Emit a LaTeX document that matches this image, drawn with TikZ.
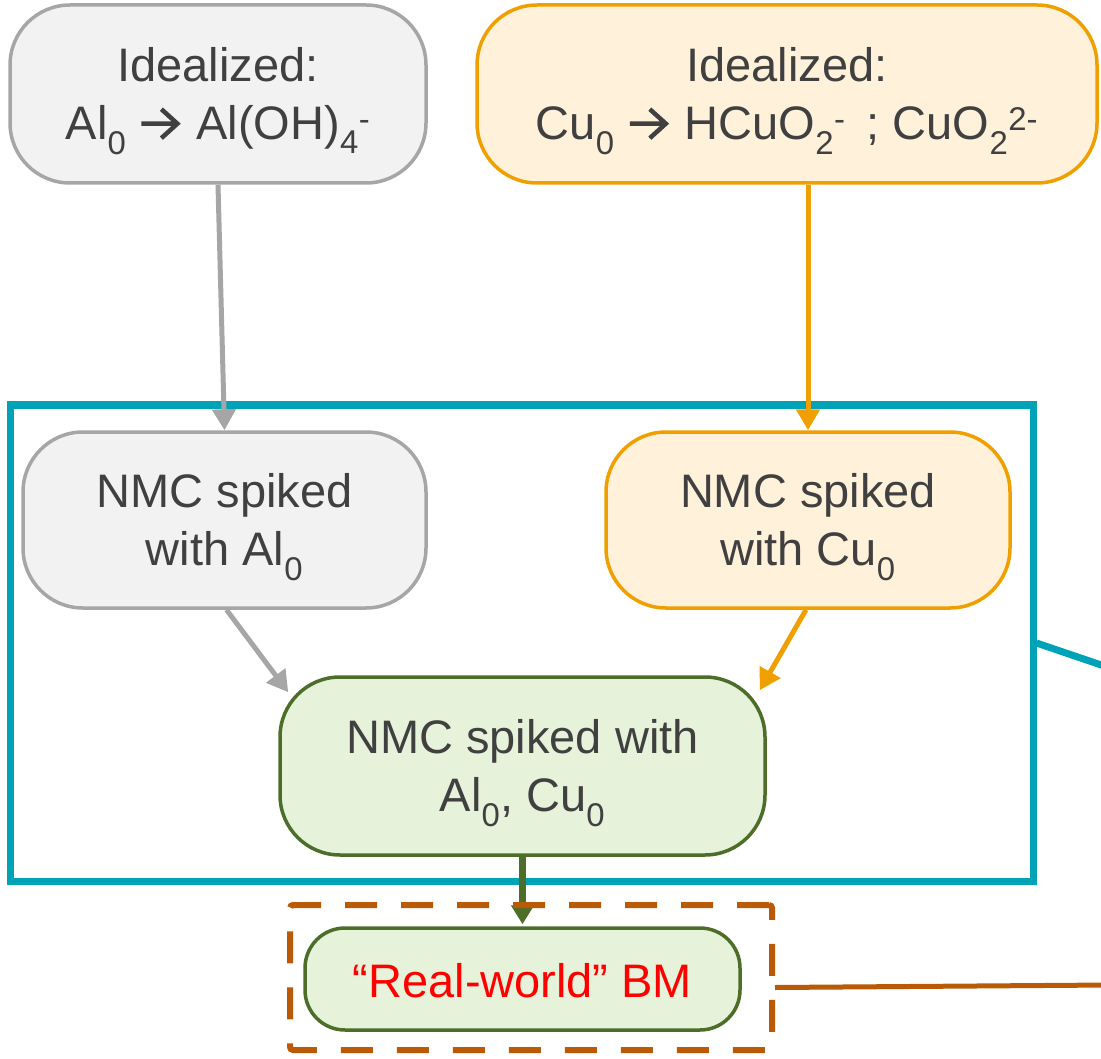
\documentclass[tikz,border=0pt]{standalone}
\usepackage{fontspec}
\setmainfont{Liberation Sans}
\usetikzlibrary{arrows.meta,calc}

\definecolor{txtgray}{HTML}{404040}
\definecolor{algray}{HTML}{A6A6A6}
\definecolor{alfill}{HTML}{F2F2F2}
\definecolor{cuorange}{HTML}{EFA000}
\definecolor{cufill}{HTML}{FFF1DA}
\definecolor{mixgreen}{HTML}{4C6E28}
\definecolor{mixfill}{HTML}{E6F2DA}
\definecolor{frameteal}{HTML}{00A2B8}
\definecolor{bmbrown}{HTML}{BA5A06}

% heavy reaction arrow used inside the equations
\newcommand\reactarrow{{\begin{pgfpicture}
  \pgfpathrectangle{\pgfpointorigin}{\pgfpoint{44pt}{32pt}}
  \pgfusepath{use as bounding box}
  \pgfsetlinewidth{4.5pt}\pgfsetmiterjoin
  \pgfsetstrokecolor{txtgray}
  \pgfpathmoveto{\pgfpoint{2pt}{16pt}}\pgfpathlineto{\pgfpoint{38pt}{16pt}}
  \pgfpathmoveto{\pgfpoint{22pt}{1.5pt}}\pgfpathlineto{\pgfpoint{38pt}{16pt}}
  \pgfpathlineto{\pgfpoint{22pt}{30.5pt}}
  \pgfusepath{stroke}
\end{pgfpicture}}}

\tikzset{
  stagebox/.style={rectangle, rounded corners=60pt, line width=3.5pt, inner sep=0pt},
  stagetext/.style={align=center, text=txtgray, inner sep=0pt,
    font=\fontsize{47}{58}\selectfont},
  albox/.style={stagebox, draw=algray, fill=alfill},
  cubox/.style={stagebox, draw=cuorange, fill=cufill},
  mixbox/.style={stagebox, draw=mixgreen, fill=mixfill},
  tip/.style={-{Triangle[length=21pt,width=23pt]}},
  alarrow/.style={tip, draw=algray, fill=algray, line width=5pt},
  cuarrow/.style={tip, draw=cuorange, fill=cuorange, line width=5pt},
  mixarrow/.style={-{Triangle[length=19pt,width=22pt]}, draw=mixgreen, fill=mixgreen, line width=6.5pt},
}

\begin{document}
\begin{tikzpicture}[x=1pt,y=-1pt]
\useasboundingbox (0,0) rectangle (1101,1059);

% test-set frame
\node[draw=frameteal, line width=7pt, minimum width=1023pt, minimum height=476pt,
  inner sep=0pt] (frame) at (521.5,643) {};

% idealized dissolution cases
\node[albox, minimum width=416pt, minimum height=178pt] (idealAl) at (218,94) {};
\node[stagetext] (idealAlText) at ([yshift=-7pt]idealAl.center)
  {Idealized:\\Al\textsubscript{0} \reactarrow{} Al(OH)\textsubscript{4}\textsuperscript{-}};
\node[cubox, minimum width=620pt, minimum height=178pt] (idealCu) at (787,94) {};
\node[stagetext] (idealCuText) at ([yshift=-7pt]idealCu.center)
  {Idealized:\\Cu\textsubscript{0} \reactarrow{} HCuO\textsubscript{2}\textsuperscript{-}\hspace{0.45em}; CuO\textsubscript{2}\textsuperscript{2-}};

% spiked NMC samples
\node[albox, minimum width=403pt, minimum height=176pt] (spikeAl) at (224.5,520) {};
\node[stagetext] (spikeAlText) at ([yshift=-7pt]spikeAl.center)
  {NMC spiked\\with Al\textsubscript{0}};
\node[cubox, minimum width=404pt, minimum height=176pt] (spikeCu) at (808,520) {};
\node[stagetext] (spikeCuText) at ([yshift=-7pt]spikeCu.center)
  {NMC spiked\\with Cu\textsubscript{0}};
\node[mixbox, minimum width=485pt, minimum height=178pt] (spikeMix) at (522.5,766) {};
\node[stagetext] (spikeMixText) at ([yshift=-7pt]spikeMix.center)
  {NMC spiked with\\Al\textsubscript{0}, Cu\textsubscript{0}};

% real-world black mass
\node[mixbox, rounded corners=40pt, minimum width=435pt, minimum height=102pt] (realBM) at (522.5,979) {};
\node[stagetext, text=red] (realBMText) at ([yshift=-2pt]realBM.center) {“Real-world” BM};

% connectors
\draw[alarrow] (idealAl.south) -- (spikeAl.north);
\draw[cuarrow] ([xshift=21pt]idealCu.south) -- (spikeCu.north);
\draw[alarrow] ([xshift=2pt]spikeAl.south) -- ($(spikeMix.north west)+(10,17)$);
\draw[cuarrow] ([xshift=-2pt]spikeCu.south) -- ($(spikeMix.north east)+(-7,15)$);
\draw[mixarrow] (spikeMix.south) -- ([yshift=2pt]realBM.north);

% dashed enclosure, drawn over the incoming arrow
\node[draw=bmbrown, line width=6pt, dash pattern=on 32pt off 24pt,
  rounded corners=3pt, minimum width=482pt, minimum height=145pt, inner sep=0pt]
  (bmframe) at (531,977.5) {};

% leads running off to the right
\coordinate (tealEnd) at (1110,668);
\coordinate (brownEnd) at (1110,985);
\draw[frameteal, line width=7pt] (frame.east) -- (tealEnd);
\draw[bmbrown, line width=5pt] ([yshift=-10pt]bmframe.east) -- (brownEnd);
\end{tikzpicture}
\end{document}
